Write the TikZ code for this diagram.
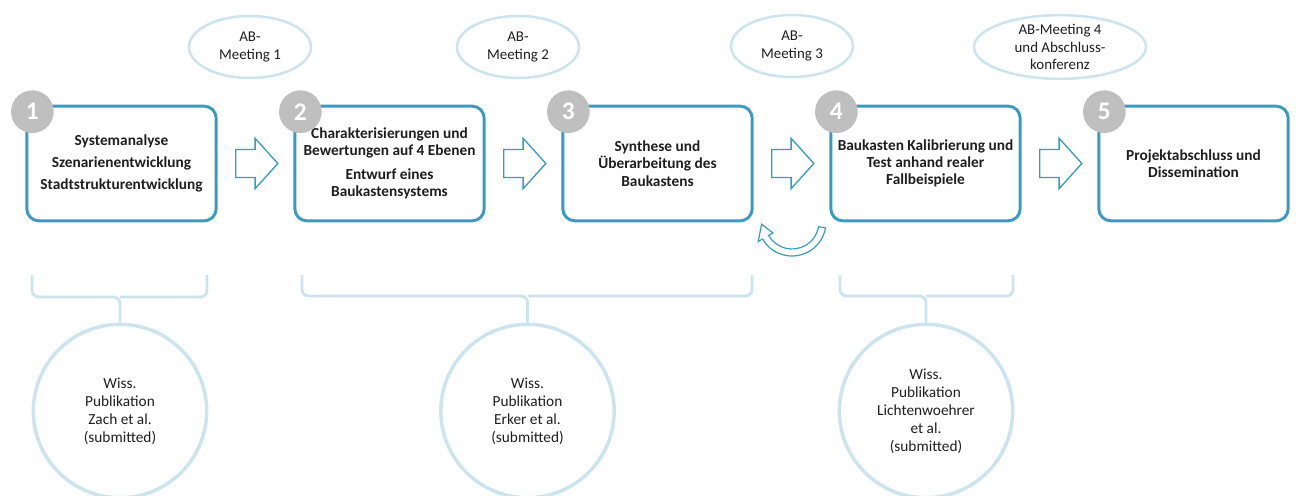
\documentclass[tikz,border=0pt]{standalone}
\usepackage{fontspec}
\setmainfont{Carlito}
\usetikzlibrary{shapes.geometric,shapes.arrows,calc}
\definecolor{boxblue}{RGB}{58,155,193}
\definecolor{paleblue}{RGB}{204,228,238}
\definecolor{numgray}{RGB}{191,191,191}
\definecolor{txt}{RGB}{30,30,30}
\tikzset{
 stepbox/.style={draw=boxblue,line width=2.2pt,rounded corners=9pt,
   minimum width=142pt,minimum height=86pt,align=center,text=txt,
   font=\fontsize{11.5}{12.9}\selectfont\bfseries},
 numcirc/.style={circle,fill=numgray,minimum size=32pt,inner sep=0pt,
   text=white,font=\fontsize{19}{19}\selectfont\bfseries},
 blockarr/.style={single arrow,draw=boxblue,line width=1pt,inner xsep=0pt,
   inner ysep=10pt,minimum height=31.5pt,single arrow head extend=8.4pt,
   single arrow tip angle=96,xshift=-3.75pt},
 meeting/.style={ellipse,draw=paleblue,line width=1.9pt,minimum width=91.5pt,
   minimum height=46.5pt,inner sep=0pt,align=center,text=txt,
   font=\fontsize{11.2}{13}\selectfont},
 pubcirc/.style={circle,draw=paleblue,line width=2.6pt,minimum size=130pt,
   align=center,text=txt,font=\fontsize{11.5}{13.5}\selectfont},
 brace/.style={draw=paleblue,line width=2.2pt,rounded corners=5pt}
}
\begin{document}
\begin{tikzpicture}[x=0.75pt,y=-0.75pt]
 \useasboundingbox (0,0) rectangle (1296,496);
 % Arbeitsschritte
 \node[stepbox] (b1) at (121.5,163.5) {Systemanalyse\\[3.5pt]Szenarienentwicklung\\[3.5pt]Stadtstrukturentwicklung};
 \node[stepbox] (b2) at (389.5,163.5) {Charakterisierungen und\\Bewertungen auf 4 Ebenen\\[5pt]Entwurf eines\\Baukastensystems};
 \node[stepbox] (b3) at (657.5,163.5) {Synthese und\\Überarbeitung des\\Baukastens};
 \node[stepbox] (b4) at (925.5,163.5) {Baukasten Kalibrierung und\\Test anhand realer\\Fallbeispiele};
 \node[stepbox] (b5) at (1193.5,163.5) {Projektabschluss und\\Dissemination};
 \foreach \i in {1,...,5}
   \node[numcirc] (n\i) at ($(b\i.north west)+(7,7)$) {\i};
 \foreach \i/\j in {1/2,2/3,3/4,4/5}
   \node[blockarr] (a\i) at ($(b\i.east)!.5!(b\j.west)$) {};
 % Iteration
 \draw[boxblue,line width=0.9pt,shift={(792,222)}]
   (10:34) arc (10:150:34) -- (150:39) -- (176:30.5) -- (150:22) -- (150:27)
   arc (150:10:27) -- cycle;
 % AB-Meetings
 \node[meeting] (m1) at (250,47) {AB-\\Meeting 1};
 \node[meeting] (m2) at (518,47) {AB-\\Meeting 2};
 \node[meeting] (m3) at (792,46) {AB-\\Meeting 3};
 \node[meeting,minimum width=129pt] (m4) at (1060,47) {AB-Meeting 4\\und Abschluss-\\konferenz};
 % Publikationen
 \node[pubcirc] (p1) at (120,411) {Wiss.\\Publikation\\Zach et al.\\(submitted)};
 \node[pubcirc] (p2) at (527.5,411) {Wiss.\\Publikation\\Erker et al.\\(submitted)};
 \node[pubcirc] (p3) at (926,411) {Wiss.\\Publikation\\Lichtenwoehrer\\et al.\\(submitted)};
 \coordinate (k1) at (120,297);
 \coordinate (k2) at (527.5,296);
 \coordinate (k3) at (926,296);
 \draw[brace] (32,275) |- (k1) -- (p1.north);
 \draw[brace] (207,275) |- (k1);
 \draw[brace] (302,275) |- (k2) -- (p2.north);
 \draw[brace] (752,275) |- (k2);
 \draw[brace] (840,275) |- (k3) -- (p3.north);
 \draw[brace] (1013,275) |- (k3);
\end{tikzpicture}
\end{document}
